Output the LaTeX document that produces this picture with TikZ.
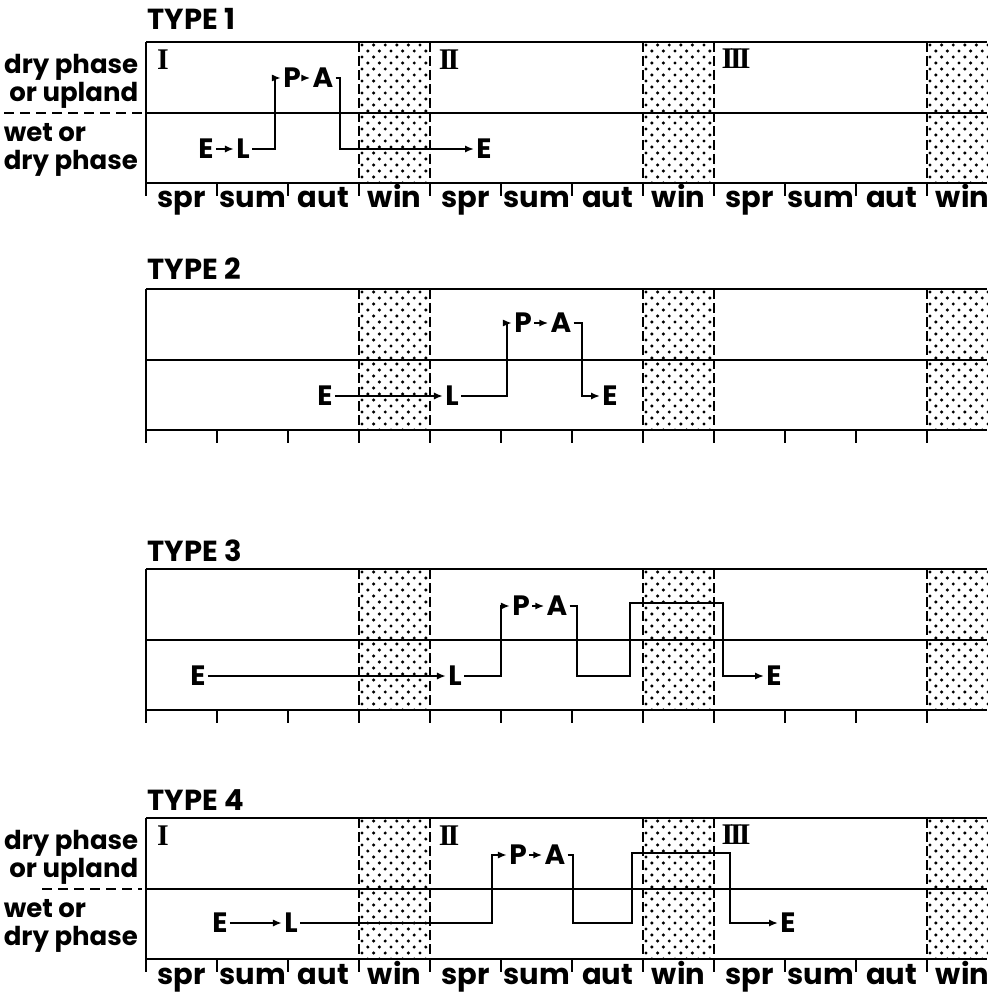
\documentclass[tikz,border=0pt]{standalone}
\usepackage{fontspec}
\setmainfont{Poppins}
\newfontfamily\romnum{Liberation Serif}
\usepackage{tikz}
\usepackage{xcolor}
\usetikzlibrary{arrows.meta}

\tikzset{
  stage/.style={font=\bfseries\fontsize{14}{15}\selectfont, inner sep=0.8pt},
  season/.style={font=\bfseries\fontsize{14.5}{15}\selectfont, anchor=base, inner sep=0pt},
  phase/.style={font=\bfseries\fontsize{13}{14}\selectfont, inner sep=0pt},
  typetitle/.style={font=\bfseries\fontsize{14.5}{15}\selectfont, anchor=base west, inner sep=0pt},
  yearnum/.style={font=\romnum\bfseries\fontsize{15}{15}\selectfont, inner sep=0pt},
  winline/.style={line width=1.2pt, dash pattern=on 5pt off 2pt},
  sideline/.style={dash pattern=on 5pt off 3pt},
  route/.style={->, line width=1pt}
}

\begin{document}
\begin{tikzpicture}[x=0.5pt,y=-0.5pt,line width=0.8pt,>={Latex[length=4.5pt,width=3.6pt]}]
\useasboundingbox (0,0) rectangle (987,994);
% four panels: top edge / title baseline / number
\foreach \t/\b/\n in {42/30/1,289/280/2,569/561/3,818/810/4} {
  \node[typetitle] (type\n) at (147,\b) {TYPE \n};
  % winters, dotted
  \foreach \w in {359,643,927} {
    \begin{scope}
      \clip (\w,\t) rectangle ++(71,141);
      \foreach \r in {0,...,23} {
        \pgfmathtruncatemacro{\odd}{mod(\r,2)}
        \foreach \c in {0,...,6}
          \fill (\w+3+\odd*5.8+\c*11.6,\t+3+\r*6) circle (0.85pt);
      }
    \end{scope}
    \draw[winline] (\w,\t) -- ++(0,141);
  }
  \foreach \w in {430,714} \draw[winline] (\w,\t) -- ++(0,141);
  \draw (146,\t) -- (987,\t);
  \draw (146,\t+71) -- (987,\t+71);
  \draw (146,\t+141) -- (987,\t+141);
  \draw (146,\t) -- (146,\t+154);
  \foreach \k in {1,...,11} \draw (146+71*\k,\t+141) -- ++(0,13);
}

% labelled panels
\foreach \t/\n in {42/1,818/4} {
  \foreach \s [count=\k from 0] in {spr,sum,aut,win,spr,sum,aut,win,spr,sum,aut,win}
    \node[season] (sn\n-\k) at (181.5+71*\k,\t+166) {\s};
  \node[phase, align=right, anchor=east] (dry\n) at (139,\t+39) {dry phase\\or upland};
  \node[phase, align=left, anchor=west] (wet\n) at (3,\t+108) {wet or\\dry phase};
  \node[yearnum] (yr\n-1) at (163,\t+18) {I};
  \node[yearnum] (yr\n-2) at (449,\t+18) {I\kern-1.5pt I};
  \node[yearnum] (yr\n-3) at (736,\t+17) {I\kern-1.5pt I\kern-1.5pt I};
}
\draw[sideline] (4,113) -- (142,113);
\draw[sideline] (42,889) -- (142,889);

% TYPE 1
\node[stage] (e1) at (206,149) {E};
\node[stage] (l1) at (243,149) {L};
\node[stage] (p1) at (292,78) {P};
\node[stage] (a1) at (323,78) {A};
\node[stage] (e1x) at (484,149) {E};
\draw[route] (e1) -- (l1);
\draw[route] (l1.east) -- ++(22.5,0) |- (p1);
\draw[route] (p1) -- (a1);
\draw[route] (a1.east) -- ++(4,0) |- (e1x);

% TYPE 2
\node[stage] (e2) at (325,396) {E};
\node[stage] (l2) at (452,396) {L};
\node[stage] (p2) at (523,323) {P};
\node[stage] (a2) at (561,323) {A};
\node[stage] (e2x) at (610,396) {E};
\draw[route] (e2) -- (l2);
\draw[route] (l2.east) -- ++(45.5,0) |- (p2);
\draw[route] (p2) -- (a2);
\draw[route] (a2.east) -- ++(8.5,0) |- (e2x);

% TYPE 3
\node[stage] (e3) at (198,676) {E};
\node[stage] (l3) at (455,676) {L};
\node[stage] (p3) at (521,606) {P};
\node[stage] (a3) at (557,606) {A};
\node[stage] (e3x) at (774,676) {E};
\draw[route] (e3) -- (l3);
\draw[route] (l3.east) -- ++(36.5,0) |- (p3);
\draw[route] (p3) -- (a3);
\draw[route] (a3.east) -- ++(7.5,0) |- (630,676) |- (723,603) |- (e3x);

% TYPE 4
\node[stage] (e4) at (220,923) {E};
\node[stage] (l4) at (291,923) {L};
\node[stage] (p4) at (518,855) {P};
\node[stage] (a4) at (555,855) {A};
\node[stage] (e4x) at (788,923) {E};
\draw[route] (e4) -- (l4);
\draw[route] (l4.east) -- ++(191.5,0) |- (p4);
\draw[route] (p4) -- (a4);
\draw[route] (a4.east) -- ++(5.5,0) |- (632,923) |- (730,853) |- (e4x);
\end{tikzpicture}
\end{document}
